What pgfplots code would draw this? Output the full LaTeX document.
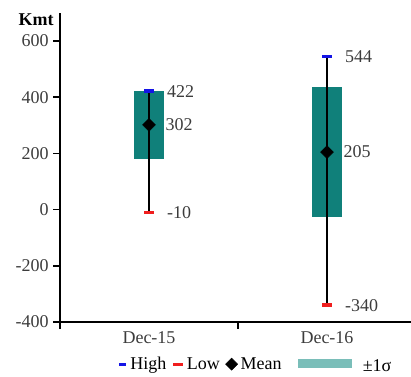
\documentclass[border=0pt]{standalone}
\usepackage{fontspec}
\setmainfont{Liberation Serif}
\usepackage{pgfplots}
\pgfplotsset{compat=1.18}
\definecolor{boxteal}{RGB}{16,128,122}
\definecolor{legteal}{RGB}{122,190,185}
\definecolor{hiblue}{RGB}{20,20,230}
\definecolor{lored}{RGB}{240,30,30}
\definecolor{ticktext}{RGB}{60,60,60}
\newcommand{\lf}{\fontsize{13.5}{15}\selectfont}
\begin{document}
\begin{tikzpicture}
\path[use as bounding box] (-45pt,-40.5pt) rectangle (263.25pt,241.5pt);
\begin{axis}[
  at={(0pt,0pt)}, anchor=south west,
  scale only axis, width=267pt, height=231.75pt,
  xmin=0, xmax=2, ymin=-400, ymax=700,
  axis x line=bottom, axis y line=left,
  axis line style={line width=1.2pt, -},
  xtick={0,1}, xticklabels={},
  extra x ticks={0.5,1.5},
  extra x tick labels={Dec-15,Dec-16},
  extra x tick style={major tick length=0pt, xticklabel style={yshift=-4pt}},
  ytick={-400,-200,0,200,400,600},
  tick align=outside, major tick length=5pt,
  tick style={line width=1.2pt, black},
  tick label style={font=\lf, text=ticktext},
  /pgf/number format/assume math mode=true,
  clip=false,
  legend style={at={(axis description cs:0.15,-0.095)}, anchor=north west,
    draw=none, fill=none, font=\lf, legend columns=4,
    /tikz/every odd column/.append style={column sep=0pt},
    /tikz/every even column/.append style={column sep=2pt}},
]
% +-1 sigma boxes
\addplot[fill=boxteal, draw=none, forget plot] coordinates {(0.415,181) (0.585,181) (0.585,423) (0.415,423)} -- cycle;
\addplot[fill=boxteal, draw=none, forget plot] coordinates {(1.415,-27) (1.585,-27) (1.585,437) (1.415,437)} -- cycle;
% whiskers
\addplot[black, line width=1.5pt, forget plot] coordinates {(0.5,-10) (0.5,422)};
\addplot[black, line width=1.5pt, forget plot] coordinates {(1.5,-340) (1.5,544)};
% high
\addplot[only marks, mark=-, mark size=3.6pt, mark options={hiblue, line width=2.5pt}, forget plot,
  nodes near coords, point meta=explicit symbolic,
  nodes near coords style={anchor=west, xshift=9pt, font=\lf, text=ticktext}]
  coordinates {(0.5,422) [422] (1.5,544) [544]};
% low
\addplot[only marks, mark=-, mark size=3.6pt, mark options={lored, line width=2.5pt}, forget plot,
  nodes near coords, point meta=explicit symbolic,
  nodes near coords style={anchor=west, xshift=9pt, font=\lf, text=ticktext}]
  coordinates {(0.5,-10) [-10] (1.5,-340) [-340]};
% mean
\addplot[only marks, mark=square*, mark size=3.4pt, mark options={black, rotate=45}, forget plot,
  nodes near coords, point meta=explicit symbolic,
  nodes near coords style={anchor=west, xshift=9pt, font=\lf, text=ticktext}]
  coordinates {(0.5,302) [302] (1.5,205) [205]};
% legend
\addlegendimage{legend image code/.code={\draw[hiblue, line width=2.5pt] (0pt,0pt) -- (5pt,0pt);}}
\addlegendentry{High}
\addlegendimage{legend image code/.code={\draw[lored, line width=2.5pt] (0pt,0pt) -- (7pt,0pt);}}
\addlegendentry{Low}
\addlegendimage{legend image code/.code={\fill[black] (4pt,-4.5pt) -- (8.5pt,0pt) -- (4pt,4.5pt) -- (-0.5pt,0pt) -- cycle;}}
\addlegendentry{Mean}
\addlegendimage{legend image code/.code={\fill[legteal, draw=none] (8pt,-3pt) rectangle (49pt,4pt); \path[draw=none, fill=none] (0pt,0pt) rectangle (55pt,0.1pt);}}
\addlegendentry{\raisebox{-3pt}{±1σ}}
\end{axis}
\node[font=\bfseries\lf] at (-18pt,227pt) {Kmt};
\end{tikzpicture}
\end{document}
